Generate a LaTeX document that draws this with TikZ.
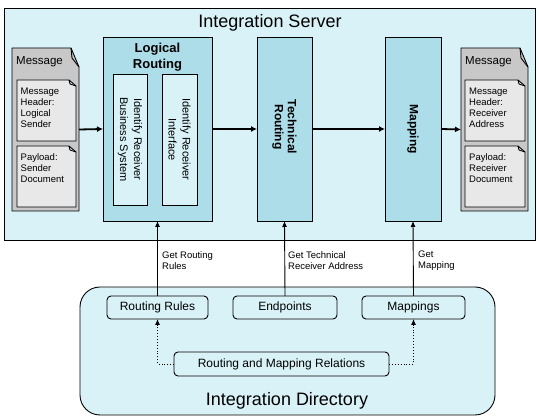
\documentclass[tikz,border=0pt]{standalone}
\usepackage{fontspec}
\setmainfont{Liberation Sans}
\usetikzlibrary{arrows.meta}
\definecolor{lightcyan}{HTML}{D9F2F7}
\definecolor{midblue}{HTML}{ADDDE9}
\definecolor{docgray}{HTML}{C8C8C8}
\definecolor{docinner}{HTML}{E8E8E8}
\begin{document}
\begin{tikzpicture}[x=1pt,y=-1pt,
  box/.style={draw, line width=0.9pt, anchor=north west, inner sep=0, outer sep=0},
  sbox/.style={box, fill=lightcyan, rounded corners=4pt, font=\fontsize{12}{14}\selectfont},
  frame/.style={anchor=north west, inner sep=0, outer sep=0},
  docline/.style={draw, line width=0.9pt, line join=miter},
  doctext/.style={anchor=north west, inner sep=0, align=left, font=\fontsize{9.5}{11}\selectfont},
  doctitle/.style={anchor=base west, inner sep=0, font=\fontsize{11.5}{13}\selectfont},
  vtext/.style={rotate=-90, align=center, inner sep=0, font=\fontsize{11}{14}\selectfont},
  vbold/.style={rotate=-90, align=center, inner sep=0, font=\bfseries\fontsize{12}{13}\selectfont},
  bigtitle/.style={anchor=base, inner sep=0, font=\fontsize{18}{20}\selectfont},
  lbl/.style={anchor=north west, inner sep=0, align=left, font=\fontsize{9.5}{11}\selectfont},
  flow/.style={line width=1.8pt, -{Latex[length=6pt,width=6pt]}},
  get/.style={line width=0.9pt, -{Latex[length=6pt,width=5pt]}},
  relarrow/.style={line width=0.9pt, dotted, -{Latex[length=6pt,width=5pt]}}
]
\useasboundingbox (0,0) rectangle (539,419);

% Integration Server
\node[box, fill=lightcyan, minimum width=531pt, minimum height=232pt] (server) at (4,8) {};
\node[bigtitle] (servertitle) at (270,28) {Integration Server};

% Logical Routing
\node[box, fill=midblue, minimum width=109pt, minimum height=184pt] (lr) at (103,37) {};
\node[anchor=north, inner sep=0, align=center, font=\bfseries\fontsize{13}{16}\selectfont] (lrtitle) at (157.5,43) {Logical\\Routing};
\node[box, fill=lightcyan, minimum width=34pt, minimum height=131pt] (irb) at (113,74) {};
\node[vtext] (irbtext) at (irb.center) {Identify Receiver\\Business System};
\node[box, fill=lightcyan, minimum width=35pt, minimum height=131pt] (iri) at (162,74) {};
\node[vtext] (iritext) at (iri.center) {Identify Receiver\\Interface};

% Technical Routing
\node[box, fill=midblue, minimum width=55pt, minimum height=184pt] (tr) at (257,37) {};
\node[vbold] (trtext) at ([yshift=2pt]tr.center) {Technical\\Routing};

% Mapping
\node[box, fill=midblue, minimum width=56pt, minimum height=184pt] (map) at (385,37) {};
\node[vbold] (maptext) at (map.center) {Mapping};

% Left message
\node[frame, minimum width=67pt, minimum height=163pt] (ld) at (12,48) {};
\draw[docline, fill=docgray] (ld.north west) -- ([xshift=-8pt]ld.north east) -- ([yshift=-19pt]ld.north east) -- (ld.south east) -- (ld.south west) -- cycle;
\draw[docline] ([xshift=-8pt]ld.north east) -- ++(1,10) -- ([yshift=-19pt]ld.north east);
\node[doctitle] (ldtitle) at (16,65) {Message};
\node[frame, minimum width=59pt, minimum height=61pt] (ld1) at (17,80) {};
\draw[docline, fill=docinner] (ld1.north west) -- ([xshift=-7pt]ld1.north east) -- ([yshift=-6pt]ld1.north east) -- (ld1.south east) -- (ld1.south west) -- cycle;
\draw[docline] ([xshift=-7pt]ld1.north east) -- ++(1,4) -- ([yshift=-6pt]ld1.north east);
\node[doctext] (ld1text) at (20.5,88) {Message\\Header:\\Logical\\Sender};
\node[frame, minimum width=59pt, minimum height=61pt] (ld2) at (17,146) {};
\draw[docline, fill=docinner] (ld2.north west) -- ([xshift=-7pt]ld2.north east) -- ([yshift=-6pt]ld2.north east) -- (ld2.south east) -- (ld2.south west) -- cycle;
\draw[docline] ([xshift=-7pt]ld2.north east) -- ++(1,4) -- ([yshift=-6pt]ld2.north east);
\node[doctext] (ld2text) at (20.5,153) {Payload:\\Sender\\Document};

% Right message
\node[frame, minimum width=67pt, minimum height=163pt] (rd) at (461,48) {};
\draw[docline, fill=docgray] (rd.north west) -- ([xshift=-8pt]rd.north east) -- ([yshift=-19pt]rd.north east) -- (rd.south east) -- (rd.south west) -- cycle;
\draw[docline] ([xshift=-8pt]rd.north east) -- ++(1,10) -- ([yshift=-19pt]rd.north east);
\node[doctitle] (rdtitle) at (465,65) {Message};
\node[frame, minimum width=60pt, minimum height=61pt] (rd1) at (465,80) {};
\draw[docline, fill=docinner] (rd1.north west) -- ([xshift=-7pt]rd1.north east) -- ([yshift=-6pt]rd1.north east) -- (rd1.south east) -- (rd1.south west) -- cycle;
\draw[docline] ([xshift=-7pt]rd1.north east) -- ++(1,4) -- ([yshift=-6pt]rd1.north east);
\node[doctext] (rd1text) at (469,88) {Message\\Header:\\Receiver\\Address};
\node[frame, minimum width=60pt, minimum height=61pt] (rd2) at (465,146) {};
\draw[docline, fill=docinner] (rd2.north west) -- ([xshift=-7pt]rd2.north east) -- ([yshift=-6pt]rd2.north east) -- (rd2.south east) -- (rd2.south west) -- cycle;
\draw[docline] ([xshift=-7pt]rd2.north east) -- ++(1,4) -- ([yshift=-6pt]rd2.north east);
\node[doctext] (rd2text) at (469,153) {Payload:\\Receiver\\Document};

% Flow arrows
\draw[flow] (ld.east) -- (lr.west);
\draw[flow] (lr.east) -- (tr.west);
\draw[flow] (tr.east) -- (map.west);
\draw[flow] (map.east) -- (rd.west);

% Integration Directory
\node[box, fill=lightcyan, rounded corners=20pt, minimum width=415pt, minimum height=128pt] (dir) at (80,287) {};
\node[bigtitle] (dirtitle) at (287,406) {Integration Directory};
\node[sbox, minimum width=101pt, minimum height=23pt] (rr) at (107,296) {Routing Rules};
\node[sbox, minimum width=104pt, minimum height=23pt] (ep) at (233,296) {Endpoints};
\node[sbox, minimum width=103pt, minimum height=23pt] (mp) at (362,296) {Mappings};
\node[sbox, minimum width=215pt, minimum height=24pt] (rel) at (174,352) {Routing and Mapping Relations};

% Get arrows
\draw[get] (rr.north) -- (lr.south);
\draw[get] (ep.north) -- (tr.south);
\draw[get] (mp.north) -- (map.south);
\node[lbl] (l1) at (162,251) {Get Routing\\Rules};
\node[lbl] (l2) at (288,251) {Get Technical\\Receiver Address};
\node[lbl] (l3) at (418,251) {Get\\Mapping};

% Relation arrows
\draw[relarrow] (rel.west) -| (rr.south);
\draw[relarrow] (rel.east) -| (mp.south);
\end{tikzpicture}
\end{document}
